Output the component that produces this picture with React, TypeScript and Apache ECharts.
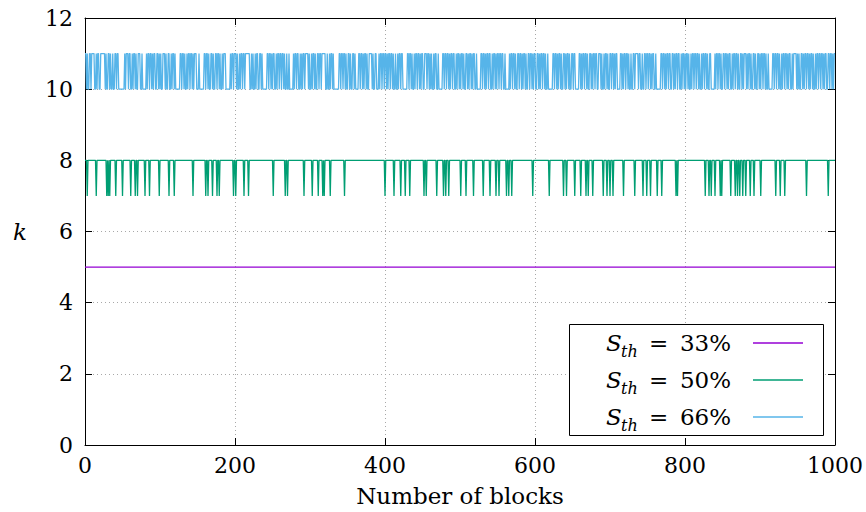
import React, { useEffect, useRef } from "react";
import * as echarts from "echarts";

// ---- data ----
const xMin = 0;
const xMax = 1000;
const xInterval = 200;
const yMin = 0;
const yMax = 12;
const yInterval = 2;

const seriesNames = ["S_th = 33%", "S_th = 50%", "S_th = 66%"];
const legendPercents = ["33%", "50%", "66%"];
const seriesColors = ["#9400d3", "#009e73", "#56b4e9"];

// S_th = 33%: constant k = 5
const purplePoints: [number, number][] = [
  [0, 5],
  [1000, 5],
];

// S_th = 50%: k = 8 except at these blocks where k = 7
const greenHigh = 8;
const greenLow = 7;
const greenDips = [
  3, 15, 29, 31, 33, 41, 50, 61, 67, 70, 80, 86, 99, 112, 119, 144, 161, 164,
  170, 176, 179, 198, 201, 212, 218, 251, 267, 270, 292, 303, 311, 317, 319,
  327, 346, 400, 412, 421, 427, 433, 452, 455, 469, 478, 481, 485, 501, 508,
  518, 531, 540, 548, 552, 562, 565, 569, 597, 619, 638, 642, 653, 661, 668,
  671, 677, 691, 696, 700, 704, 718, 733, 744, 749, 754, 763, 769, 788, 790,
  827, 832, 835, 840, 847, 849, 861, 867, 870, 873, 877, 881, 887, 892, 901,
  921, 927, 933, 962, 991,
];

// S_th = 66%: k per block, "1" = 11, "0" = 10
const blueHigh = 11;
const blueLow = 10;
const blueBlocks = [
  // 0-99
  "1101001101", "1110010110", "0111111010", "0110100100", "1101100000",
  "0001011101", "1001011010", "0111001000", "0010110110", "1011001101",
  // 100-199
  "0100111010", "0110010110", "1000000110", "1101001011", "0110101110",
  "0010000001", "1011010011", "0100110110", "1001011100", "0000101101",
  // 200-299
  "1101001011", "0110111111", "0010100101", "1001101000", "0001101101",
  "0110010110", "1101101001", "0010000010", "1101100101", "0110111101",
  // 300-399
  "0010110100", "1101101111", "1001001011", "0100000001", "1011011010",
  "0110100110", "1000011011", "0101101001", "1110100110", "0010110110",
  // 400-499
  "1101011011", "0100100101", "1011000000", "1101101001", "0110110101",
  "1001110110", "1010010110", "0100000110", "1101101011", "0110010110",
  // 500-599
  "1011010011", "0101101011", "0010000011", "0110101101", "1001011010",
  "1101101100", "1000001011", "0110100110", "1101011010", "0110110101",
  // 600-699
  "1001101011", "0110100100", "0000110110", "1011010011", "0101101001",
  "1011000001", "1010110110", "1001101011", "0110011101", "0010110100",
  // 700-799
  "1101101011", "0000110101", "1011010010", "0110111101", "1001001101",
  "1011010110", "0100000011", "0110101101", "1001101011", "0110010110",
  // 800-899
  "1011010010", "1101101101", "0010110110", "1001100000", "1011011010",
  "0110110101", "1001011011", "0100110101", "1101011010", "0110100110",
  // 900-999
  "1011011010", "0100000110", "1101101001", "0110110101", "1001011110",
  "1010011010", "1101101011", "0100101101", "1011010110", "0110110101",
  // 1000
  "1",
];

// ---- build series data ----
const greenPoints: [number, number][] = [];
for (let i = xMin; i <= xMax; i++) {
  greenPoints.push([i, greenDips.includes(i) ? greenLow : greenHigh]);
}
const bluePoints: [number, number][] = blueBlocks
  .join("")
  .split("")
  .map((c, i) => [i, c === "1" ? blueHigh : blueLow]);

const FONT = "DejaVu Serif";
const FS = 22;

const gridLine = { show: true, lineStyle: { color: "#a8a8a8", type: [1, 3] as any, width: 1 } };
const frameLine = { show: true, onZero: false, lineStyle: { color: "#000", width: 1 } };
const tick = { show: true, inside: true, length: 7, lineStyle: { color: "#000", width: 1 } };

function buildOption() {
  const legendRows = [343, 380, 417];
  const graphic: any[] = [
    {
      type: "rect",
      z: 100,
      shape: { x: 569.5, y: 324.5, width: 254, height: 111 },
      style: { fill: "#fff", stroke: "#000", lineWidth: 1 },
    },
  ];
  legendPercents.forEach((p, i) => {
    const y = legendRows[i];
    graphic.push(
      {
        type: "text",
        z: 101,
        x: 606,
        y,
        style: { text: "S", fontFamily: FONT, fontSize: FS + 1, fontStyle: "italic", fill: "#000", textAlign: "left", textVerticalAlign: "middle" },
      },
      {
        type: "text",
        z: 101,
        x: 621,
        y: y + 8,
        style: { text: "th", fontFamily: FONT, fontSize: 16, fontStyle: "italic", fill: "#000", textAlign: "left", textVerticalAlign: "middle" },
      },
      {
        type: "text",
        z: 101,
        x: 649,
        y,
        style: { text: "=", fontFamily: FONT, fontSize: FS + 1, fill: "#000", textAlign: "left", textVerticalAlign: "middle" },
      },
      {
        type: "text",
        z: 101,
        x: 731,
        y,
        style: { text: p, fontFamily: FONT, fontSize: FS + 1, fill: "#000", textAlign: "right", textVerticalAlign: "middle" },
      },
      {
        type: "line",
        z: 101,
        shape: { x1: 753, y1: y, x2: 803, y2: y },
        style: { stroke: seriesColors[i], lineWidth: 1.5 },
      }
    );
  });

  const lineSeries = (name: string, data: [number, number][], color: string, width: number) => ({
    name,
    type: "line",
    data,
    showSymbol: false,
    symbol: "none",
    xAxisIndex: 0,
    yAxisIndex: 0,
    color,
    lineStyle: { color, width },
    emphasis: { disabled: true },
    z: 3,
  });

  const labelFmt = (v: number) => String(v);

  return {
    animation: false,
    backgroundColor: "#fff",
    textStyle: { fontFamily: FONT },
    grid: { left: 85, right: 31, top: 18, bottom: 67, containLabel: false },
    xAxis: [
      {
        type: "value",
        position: "bottom",
        min: xMin,
        max: xMax,
        interval: xInterval,
        axisLine: frameLine,
        axisTick: tick,
        splitLine: gridLine,
        axisLabel: { show: true, color: "#000", fontFamily: FONT, fontSize: FS, margin: 9, formatter: labelFmt },
        name: "Number of blocks",
        nameLocation: "middle",
        nameGap: 39,
        nameTextStyle: { color: "#000", fontFamily: FONT, fontSize: FS + 1 },
      },
      {
        type: "value",
        position: "top",
        min: xMin,
        max: xMax,
        interval: xInterval,
        axisLine: frameLine,
        axisTick: tick,
        splitLine: { show: false },
        axisLabel: { show: false },
      },
    ],
    yAxis: [
      {
        type: "value",
        position: "left",
        min: yMin,
        max: yMax,
        interval: yInterval,
        axisLine: frameLine,
        axisTick: tick,
        splitLine: gridLine,
        axisLabel: { show: true, color: "#000", fontFamily: FONT, fontSize: FS, margin: 12, formatter: labelFmt },
        name: "k",
        nameLocation: "middle",
        nameRotate: 0,
        nameGap: 58,
        nameTextStyle: { color: "#000", fontFamily: FONT, fontSize: FS + 1, fontStyle: "italic" },
      },
      {
        type: "value",
        position: "right",
        min: yMin,
        max: yMax,
        interval: yInterval,
        axisLine: frameLine,
        axisTick: tick,
        splitLine: { show: false },
        axisLabel: { show: false },
      },
    ],
    series: [
      lineSeries(seriesNames[0], purplePoints, seriesColors[0], 1.2),
      lineSeries(seriesNames[1], greenPoints, seriesColors[1], 1.3),
      lineSeries(seriesNames[2], bluePoints, seriesColors[2], 1.3),
    ],
    graphic,
  };
}

export default function App() {
  const ref = useRef<HTMLDivElement>(null);
  useEffect(() => {
    document.body.style.margin = "0";
    const chart = echarts.init(ref.current!, null, { renderer: "svg" });
    chart.setOption(buildOption() as any);
    return () => chart.dispose();
  }, []);
  return <div ref={ref} style={{ width: 866, height: 512 }} />;
}
